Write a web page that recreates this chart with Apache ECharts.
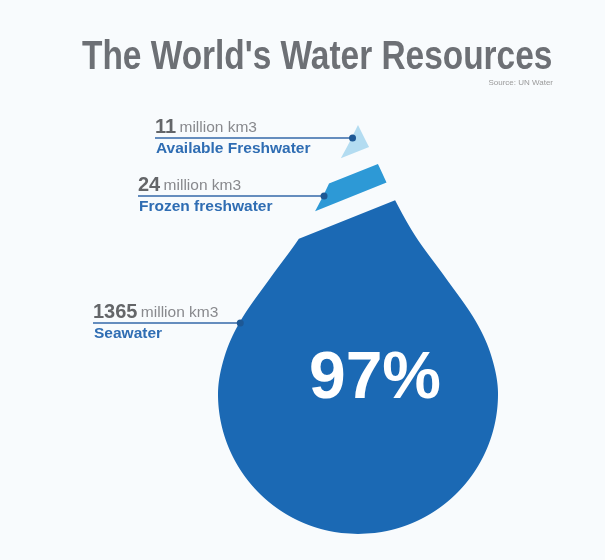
<!DOCTYPE html>
<html>
<head>
<meta charset="utf-8">
<script src="https://cdn.jsdelivr.net/npm/echarts@6/dist/echarts.min.js"></script>
<style>
  html, body { margin: 0; padding: 0; background: #f8fbfd; }
  #chart { width: 605px; height: 560px; }
</style>
</head>
<body>
<div id="chart"></div>
<script>
// ---------- data ----------
const titleText = "The World's Water Resources";
const sourceText = 'Source: UN Water';
const categories = ['Available Freshwater', 'Frozen freshwater', 'Seawater'];
const volumes = [11, 24, 1365];
const unitLabel = 'million km3';

// ---------- layout / style (not data) ----------
const CX = 358;
const PROFILE = [[125, 0], [145, 10], [160, 18], [200, 37], [237, 58], [277, 87], [320, 117], [355, 133], [394, 140]];
const CIRCLE = { cy: 394, r: 140 };
const CUT_SLOPE = -0.4;
const CUTS = [[null, 151.5], [172, 194], [215, null]];
const PIECE_COLORS = ['#b3dcf1', '#2d99d6', '#1b69b4'];
const LEADERS = [{ y: 138, x0: 155 }, { y: 196, x0: 138 }, { y: 323, x0: 93 }];
const FONT = "'Liberation Sans', Arial, sans-serif";

function profileSlopes() {
  const n = PROFILE.length, m = [];
  for (let k = 0; k < n; k++) {
    if (k === 0) m.push((PROFILE[1][1] - PROFILE[0][1]) / (PROFILE[1][0] - PROFILE[0][0]));
    else if (k === n - 1) m.push(0);
    else m.push((PROFILE[k + 1][1] - PROFILE[k - 1][1]) / (PROFILE[k + 1][0] - PROFILE[k - 1][0]));
  }
  return m;
}
const SLOPES = profileSlopes();

function halfWidth(y) {
  if (y <= PROFILE[0][0]) return 0;
  if (y >= CIRCLE.cy) {
    const d = y - CIRCLE.cy;
    return d >= CIRCLE.r ? 0 : Math.sqrt(CIRCLE.r * CIRCLE.r - d * d);
  }
  let k = 0;
  while (k < PROFILE.length - 2 && y > PROFILE[k + 1][0]) k++;
  const [y0, w0] = PROFILE[k], [y1, w1] = PROFILE[k + 1];
  const h = y1 - y0, t = (y - y0) / h;
  const t2 = t * t, t3 = t2 * t;
  return (2 * t3 - 3 * t2 + 1) * w0 + (t3 - 2 * t2 + t) * h * SLOPES[k] +
         (-2 * t3 + 3 * t2) * w1 + (t3 - t2) * h * SLOPES[k + 1];
}

function dropPolygon() {
  const pts = [];
  const yBot = CIRCLE.cy + CIRCLE.r;
  for (let y = PROFILE[0][0]; y <= yBot; y += 1) pts.push([CX - halfWidth(y), y]);
  for (let y = yBot - 1; y > PROFILE[0][0]; y -= 1) pts.push([CX + halfWidth(y), y]);
  return pts;
}
const DROP = dropPolygon();

function clipHalf(poly, yc, keepAbove) {
  const f = p => { const d = p[1] - (yc + CUT_SLOPE * (p[0] - CX)); return keepAbove ? d : -d; };
  const out = [];
  for (let k = 0; k < poly.length; k++) {
    const a = poly[k], b = poly[(k + 1) % poly.length];
    const fa = f(a), fb = f(b);
    if (fa <= 0) out.push(a);
    if ((fa < 0 && fb > 0) || (fa > 0 && fb < 0)) {
      const t = fa / (fa - fb);
      out.push([a[0] + t * (b[0] - a[0]), a[1] + t * (b[1] - a[1])]);
    }
  }
  return out;
}

const total = volumes.reduce((s, v) => s + v, 0);

const chart = echarts.init(document.getElementById('chart'));
chart.setOption({
  backgroundColor: '#f8fbfd',
  animation: false,
  title: [
    {
      text: sourceText, right: 52, top: 79, padding: 0,
      textStyle: { fontFamily: FONT, fontWeight: 'normal', fontSize: 8, color: '#9a9a9a' }
    }
  ],
  graphic: [{
    type: 'text',
    x: 82, y: 37,
    scaleX: 0.815,
    style: {
      text: titleText,
      x: 0, y: 0,
      verticalAlign: 'top',
      font: 'bold 41px ' + FONT,
      fill: '#6d7075'
    }
  }],
  grid: { left: 0, right: 0, top: 0, bottom: 0 },
  xAxis: { type: 'value', min: 0, max: 605, show: false },
  yAxis: { type: 'value', min: 0, max: 560, inverse: true, show: false },
  series: [{
    type: 'custom',
    coordinateSystem: 'cartesian2d',
    clip: false,
    data: categories.map((c, i) => ({ name: c, value: [i, volumes[i]] })),
    renderItem: function (params, api) {
      const i = params.dataIndex;
      const vol = api.value(1);
      let poly = DROP;
      const [topCut, botCut] = CUTS[i];
      if (topCut !== null) poly = clipHalf(poly, topCut, false);
      if (botCut !== null) poly = clipHalf(poly, botCut, true);
      const children = [{
        type: 'polygon',
        shape: { points: poly.map(p => api.coord(p)) },
        style: { fill: PIECE_COLORS[i] }
      }];
      const L = LEADERS[i];
      const p0 = api.coord([L.x0, L.y]);
      const p1 = api.coord([CX - halfWidth(L.y) + 1, L.y]);
      children.push({
        type: 'line',
        shape: { x1: p0[0], y1: p0[1], x2: p1[0], y2: p1[1] },
        style: { stroke: '#3468a9', lineWidth: 1.5 }
      });
      children.push({
        type: 'circle',
        shape: { cx: p1[0], cy: p1[1], r: 3.5 },
        style: { fill: '#1d5895' }
      });
      children.push({
        type: 'text',
        style: {
          text: '{n|' + vol + '} {u|' + unitLabel + '}',
          x: p0[0], y: p0[1] - 1,
          align: 'left', verticalAlign: 'bottom',
          rich: {
            n: { fontFamily: FONT, fontWeight: 'bold', fontSize: 20, fill: '#646669', lineHeight: 20, verticalAlign: 'bottom' },
            u: { fontFamily: FONT, fontSize: 15.5, fill: '#88898d', lineHeight: 16, verticalAlign: 'bottom', padding: [0, 0, 1, 0] }
          }
        }
      });
      children.push({
        type: 'text',
        style: {
          text: categories[i],
          x: p0[0] + 1, y: p0[1] + 3,
          align: 'left', verticalAlign: 'top',
          font: 'bold 15.5px ' + FONT,
          fill: '#2f6db3'
        }
      });
      if (i === categories.length - 1) {
        const c = api.coord([375, 380]);
        children.push({
          type: 'text',
          style: {
            text: Math.floor(vol / total * 100) + '%',
            x: c[0], y: c[1],
            align: 'center', verticalAlign: 'middle',
            font: 'bold 66px ' + FONT,
            fill: '#ffffff'
          }
        });
      }
      return { type: 'group', children: children };
    }
  }]
});
</script>
</body>
</html>
